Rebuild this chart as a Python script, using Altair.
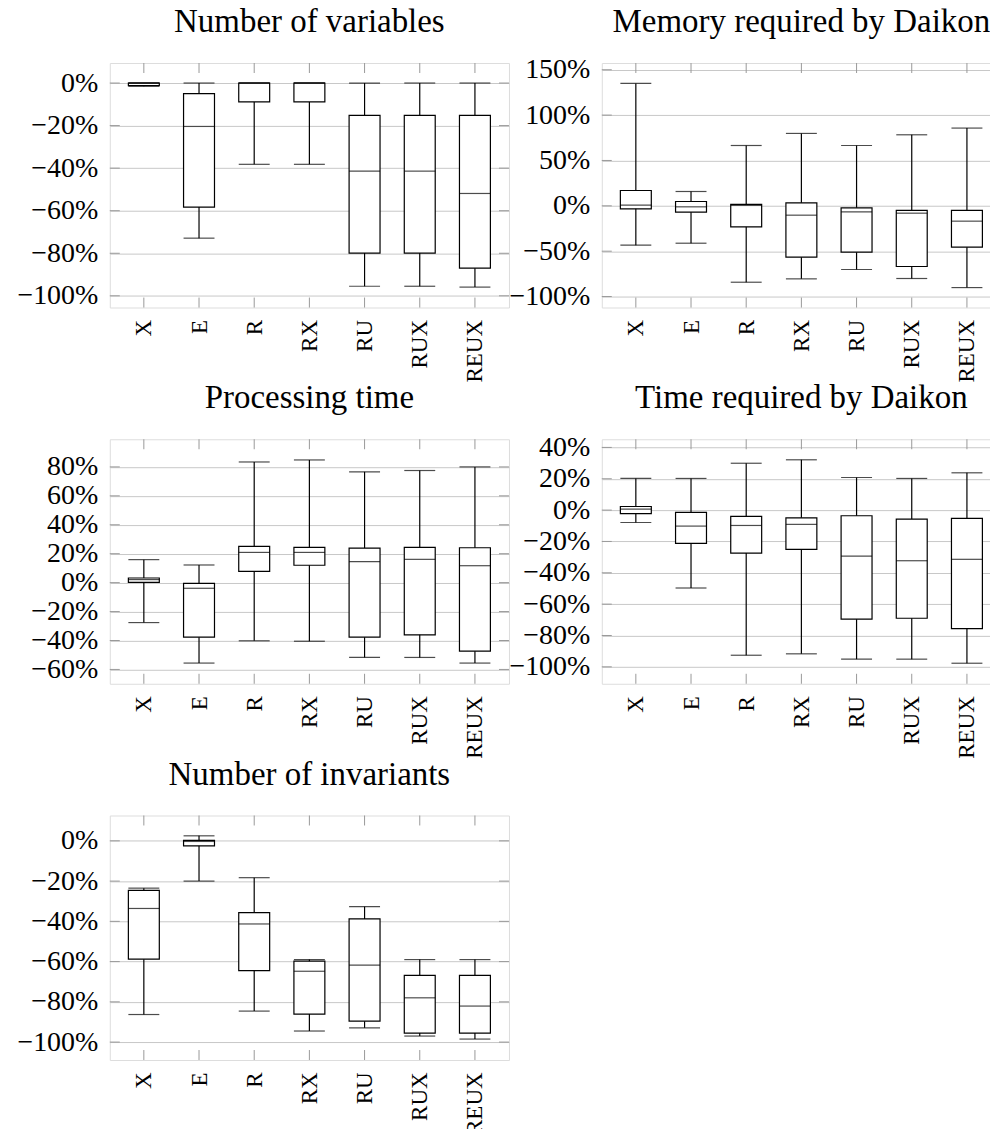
import altair as alt
import pandas as pd

CATS = ["X", "E", "R", "RX", "RU", "RUX", "REUX"]

# Number of variables (percent)
VAR_LO = [-1.5, -72.9, -38.2, -38.2, -95.5, -95.5, -95.9]
VAR_Q1 = [-1.2, -58.3, -8.9, -8.9, -79.9, -79.9, -87.0]
VAR_MED = [0.0, -20.4, 0.0, 0.0, -41.4, -41.4, -51.9]
VAR_Q3 = [0.0, -5.0, 0.0, 0.0, -15.2, -15.2, -15.2]
VAR_HI = [0.0, 0.0, 0.0, 0.0, 0.0, 0.0, 0.0]
VAR_TICKS = [0, -20, -40, -60, -80, -100]

# Memory required by Daikon
MEM_LO = [-43.4, -41.2, -84.2, -80.5, -70.2, -80.1, -90.1]
MEM_Q1 = [-3.3, -7.0, -23.2, -56.6, -51.1, -66.9, -45.6]
MEM_MED = [0.7, -1.1, 0.4, -10.3, -6.6, -8.1, -16.9]
MEM_Q3 = [16.9, 4.8, 1.5, 3.3, -2.2, -5.1, -5.1]
MEM_HI = [134.9, 15.8, 66.5, 79.8, 66.5, 78.3, 85.7]
MEM_TICKS = [150, 100, 50, 0, -50, -100]

# Processing time
PRO_LO = [-27.6, -55.6, -40.2, -40.5, -51.7, -51.7, -55.6]
PRO_Q1 = [0.2, -37.7, 7.8, 12.0, -37.7, -36.1, -47.4]
PRO_MED = [2.1, -3.9, 20.9, 20.9, 14.5, 16.1, 11.7]
PRO_Q3 = [3.2, -0.5, 25.1, 24.4, 23.9, 24.4, 24.1]
PRO_HI = [15.9, 12.2, 83.4, 84.8, 76.6, 77.5, 80.0]
PRO_TICKS = [80, 60, 40, 20, 0, -20, -40, -60]

# Time required by Daikon
TIM_LO = [-7.9, -49.7, -92.6, -91.7, -95.1, -95.1, -97.7]
TIM_Q1 = [-2.3, -21.2, -27.4, -25.1, -69.6, -69.0, -75.6]
TIM_MED = [0.6, -10.2, -9.8, -9.1, -29.3, -32.3, -31.4]
TIM_Q3 = [2.3, -1.5, -4.0, -4.9, -3.6, -5.7, -5.3]
TIM_HI = [20.2, 20.2, 29.9, 32.1, 20.8, 20.2, 23.8]
TIM_TICKS = [40, 20, 0, -20, -40, -60, -80, -100]

# Number of invariants
INV_LO = [-86.3, -20.0, -84.6, -94.5, -92.9, -97.0, -98.5]
INV_Q1 = [-58.8, -2.5, -64.5, -86.1, -89.6, -95.5, -95.5]
INV_MED = [-33.6, -0.3, -41.3, -64.8, -61.8, -78.0, -82.1]
INV_Q3 = [-24.6, 0.2, -35.7, -59.8, -38.8, -66.8, -66.8]
INV_HI = [-23.5, 2.5, -18.3, -59.0, -32.7, -59.0, -59.0]
INV_TICKS = [0, -20, -40, -60, -80, -100]

W, H = 400, 245
FONT = "Liberation Serif"
TICKLEN = 10
LW = 1.2
TITLE_GAP = 31


def panel(title, lo, q1, med, q3, hi, ticks, domain):
    df = pd.DataFrame({
        "cat": CATS,
        "lo": [v / 100 for v in lo],
        "q1": [v / 100 for v in q1],
        "med": [v / 100 for v in med],
        "q3": [v / 100 for v in q3],
        "hi": [v / 100 for v in hi],
    })
    tdf = pd.DataFrame({"v": [t / 100 for t in ticks]})
    ttl = pd.DataFrame({"t": [title]})
    yscale = alt.Scale(domain=[d / 100 for d in domain], nice=False, zero=False)
    xscale = alt.Scale(type="point", domain=CATS, padding=0.617)
    yaxis = alt.Axis(values=[t / 100 for t in ticks], format=".0%", title=None,
                     ticks=False, tickSize=0, domain=False, grid=True,
                     gridColor="#c8c8c8", gridWidth=1, labelFont=FONT,
                     labelFontSize=28, labelColor="black", labelPadding=12,
                     labelBaseline="middle")
    xaxis = alt.Axis(title=None, ticks=False, tickSize=0, domain=False, grid=False,
                     labelAngle=270, labelAlign="right", labelBaseline="middle",
                     labelFont=FONT, labelFontSize=23, labelColor="black",
                     labelPadding=12)
    X = alt.X("cat:N", scale=xscale, sort=CATS, axis=xaxis)
    base = alt.Chart(df).encode(x=X)
    whisk = base.mark_rule(color="black", strokeWidth=LW).encode(
        y=alt.Y("lo:Q", scale=yscale, axis=yaxis), y2="hi:Q")
    cap_lo = base.mark_tick(color="black", size=31, thickness=LW).encode(
        y=alt.Y("lo:Q", scale=yscale, axis=yaxis))
    cap_hi = base.mark_tick(color="black", size=31, thickness=LW).encode(
        y=alt.Y("hi:Q", scale=yscale, axis=yaxis))
    box = base.mark_bar(size=31, fill="white", stroke="black", strokeWidth=LW).encode(
        y=alt.Y("q1:Q", scale=yscale, axis=yaxis), y2="q3:Q")
    median = base.mark_tick(color="black", size=31, thickness=LW).encode(
        y=alt.Y("med:Q", scale=yscale, axis=yaxis))
    tick_l = alt.Chart(tdf).mark_rule(color="#999999", strokeWidth=1).encode(
        x=alt.value(0), x2=alt.value(TICKLEN), y=alt.Y("v:Q", scale=yscale, axis=yaxis))
    tick_r = alt.Chart(tdf).mark_rule(color="#999999", strokeWidth=1).encode(
        x=alt.value(W - TICKLEN), x2=alt.value(W), y=alt.Y("v:Q", scale=yscale, axis=yaxis))
    tick_t = base.mark_rule(color="#999999", strokeWidth=1).encode(
        y=alt.value(0), y2=alt.value(TICKLEN))
    tick_b = base.mark_rule(color="#999999", strokeWidth=1).encode(
        y=alt.value(H - TICKLEN), y2=alt.value(H))
    title_txt = alt.Chart(ttl).mark_text(font=FONT, fontSize=33, color="black",
                                         align="center", baseline="alphabetic").encode(
        x=alt.value(W / 2), y=alt.value(-TITLE_GAP), text="t:N")
    return alt.layer(tick_l, tick_r, tick_t, tick_b, whisk, cap_lo, cap_hi, box, median,
                     title_txt).properties(width=W, height=H)


p1 = panel("Number of variables", VAR_LO, VAR_Q1, VAR_MED, VAR_Q3, VAR_HI, VAR_TICKS, [-105.5, 9.4])
p2 = panel("Memory required by Daikon", MEM_LO, MEM_Q1, MEM_MED, MEM_Q3, MEM_HI, MEM_TICKS, [-112.1, 157.4])
p3 = panel("Processing time", PRO_LO, PRO_Q1, PRO_MED, PRO_Q3, PRO_HI, PRO_TICKS, [-69.9, 99.1])
p4 = panel("Time required by Daikon", TIM_LO, TIM_Q1, TIM_MED, TIM_Q3, TIM_HI, TIM_TICKS, [-110.8, 45.2])
p5 = panel("Number of invariants", INV_LO, INV_Q1, INV_MED, INV_Q3, INV_HI, INV_TICKS, [-108.9, 12.6])

chart = alt.concat(p1, p2, p3, p4, p5, columns=2,
                   spacing={"row": 132, "column": 93}, bounds="flush").properties(
    padding={"left": 8, "top": -4, "right": -12, "bottom": -8}
).configure_view(stroke="black", strokeWidth=LW).configure(background="white")

chart.save("out.html", embed_options={"renderer": "svg", "actions": False})
